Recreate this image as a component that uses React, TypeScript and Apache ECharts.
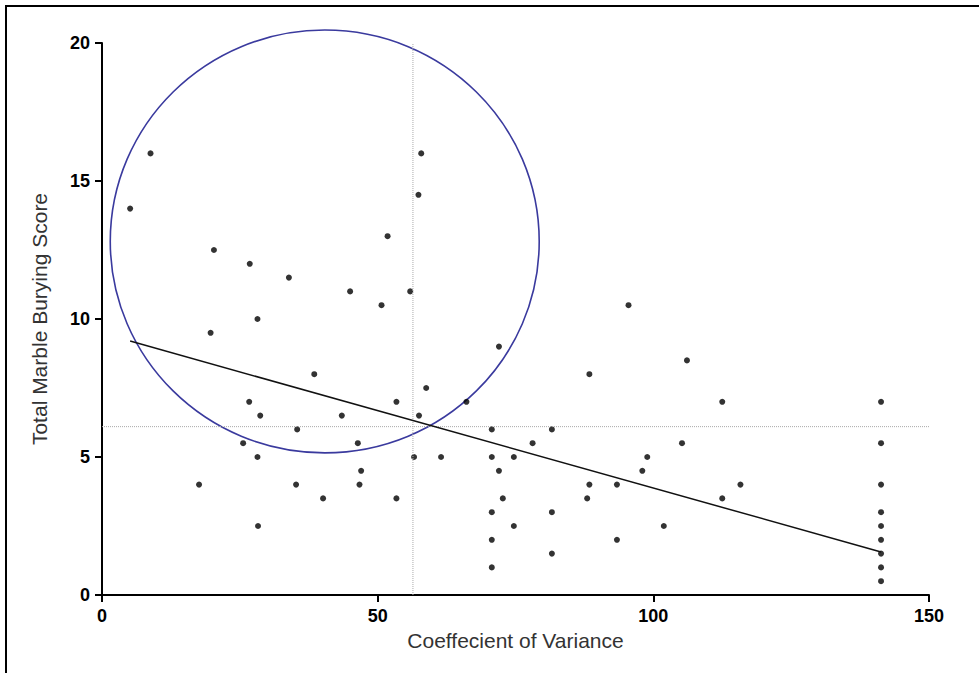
import React, { useEffect, useRef } from "react";
import * as echarts from "echarts";

const xTicks = [0, 50, 100, 150];
const yTicks = [0, 5, 10, 15, 20];

const pointsX = [
  5.1, 8.8, 20.3, 26.8, 33.9, 45.0, 50.7, 51.8, 57.9, 57.4, 55.9,
  19.7, 28.2, 38.5, 26.7, 28.7, 43.5, 35.4, 25.6, 28.2, 46.4, 47.0, 46.7, 17.6, 35.2, 40.1, 53.4, 28.3,
  58.8, 53.4, 66.1, 57.5, 72.0,
  70.7, 81.6, 78.1, 56.6, 61.5, 70.7, 74.7, 72.0, 72.7, 70.7, 81.6, 74.7, 70.7, 81.6, 70.7,
  95.5, 106.1, 88.4, 112.5, 105.2, 98.9, 98.0, 88.4, 93.4, 88.0, 101.9, 93.4, 115.8, 112.5,
  141.3, 141.3, 141.3, 141.3, 141.3, 141.3, 141.3, 141.3, 141.3,
];
const pointsY = [
  14, 16, 12.5, 12, 11.5, 11, 10.5, 13, 16, 14.5, 11,
  9.5, 10, 8, 7, 6.5, 6.5, 6, 5.5, 5, 5.5, 4.5, 4, 4, 4, 3.5, 3.5, 2.5,
  7.5, 7, 7, 6.5, 9,
  6, 6, 5.5, 5, 5, 5, 5, 4.5, 3.5, 3, 3, 2.5, 2, 1.5, 1,
  10.5, 8.5, 8, 7, 5.5, 5, 4.5, 4, 4, 3.5, 2.5, 2, 4, 3.5,
  7, 5.5, 4, 3, 2.5, 2, 1.5, 1, 0.5,
];

const regressionLine = [
  [5.1, 9.2],
  [141.3, 1.56],
];
const meanX = 56.4;
const meanY = 6.1;
// circled region (annotation) in data units
const circleCenter = [40.4, 12.81];
const circleRadius = [38.9, 7.66];

const FONT = 'Arial, "Liberation Sans", sans-serif';

export default function App() {
  const ref = useRef<HTMLDivElement>(null);
  useEffect(() => {
    if (!ref.current) return;
    const chart = echarts.init(ref.current, null, { renderer: "svg" });
    const scatterData = pointsX.map((x, i) => [x, pointsY[i]]);
    chart.setOption({
      animation: false,
      backgroundColor: "#ffffff",
      grid: { left: 102, top: 43, right: 50, bottom: 78, containLabel: false },
      xAxis: {
        type: "value",
        min: xTicks[0],
        max: xTicks[xTicks.length - 1],
        interval: 50,
        name: "Coeffecient of Variance",
        nameLocation: "middle",
        nameGap: 33,
        nameTextStyle: { fontFamily: FONT, fontSize: 21, color: "#333333" },
        axisLine: { show: true, onZero: false, lineStyle: { color: "#000", width: 2 } },
        axisTick: { show: true, length: 7, lineStyle: { color: "#000", width: 2 } },
        axisLabel: { margin: 12, fontFamily: FONT, fontSize: 18, fontWeight: "bold", color: "#000" },
        splitLine: { show: false },
      },
      yAxis: {
        type: "value",
        min: yTicks[0],
        max: yTicks[yTicks.length - 1],
        interval: 5,
        name: "Total Marble Burying Score",
        nameLocation: "middle",
        nameGap: 52,
        nameTextStyle: { fontFamily: FONT, fontSize: 21, color: "#333333" },
        axisLine: { show: true, onZero: false, lineStyle: { color: "#000", width: 2 } },
        axisTick: { show: true, length: 7, lineStyle: { color: "#000", width: 2 } },
        axisLabel: { margin: 12, fontFamily: FONT, fontSize: 18, fontWeight: "bold", color: "#000" },
        splitLine: { show: false },
      },
      series: [
        {
          type: "line",
          data: [
            [meanX, yTicks[0]],
            [meanX, yTicks[yTicks.length - 1]],
          ],
          symbol: "none",
          lineStyle: { color: "#aaa", width: 1, type: [1, 1] },
          silent: true,
        },
        {
          type: "line",
          data: [
            [xTicks[0], meanY],
            [xTicks[xTicks.length - 1], meanY],
          ],
          symbol: "none",
          lineStyle: { color: "#aaa", width: 1, type: [1, 1] },
          silent: true,
        },
        {
          type: "line",
          data: regressionLine,
          symbol: "none",
          lineStyle: { color: "#111", width: 1.5 },
          silent: true,
        },
        {
          type: "scatter",
          data: scatterData,
          symbol: "circle",
          symbolSize: 6,
          itemStyle: { color: "#000" },
        },
      ],
    });
    const c = chart.convertToPixel({ gridIndex: 0 }, circleCenter) as number[];
    const e = chart.convertToPixel({ gridIndex: 0 }, [
      circleCenter[0] + circleRadius[0],
      circleCenter[1] + circleRadius[1],
    ]) as number[];
    chart.setOption({
      graphic: [
        {
          type: "rect",
          shape: { x: 6, y: 6, width: 1200, height: 1200 },
          style: { fill: "none", stroke: "#000", lineWidth: 2 },
          silent: true,
        },
        {
          type: "ellipse",
          shape: { cx: c[0], cy: c[1], rx: Math.abs(e[0] - c[0]), ry: Math.abs(c[1] - e[1]) },
          style: { fill: "none", stroke: "#3a3a9e", lineWidth: 1.6 },
          silent: true,
        },
      ],
    });
    return () => chart.dispose();
  }, []);
  return (
    <div
      ref={ref}
      style={{ position: "absolute", left: 0, top: 0, width: 979, height: 673 }}
    />
  );
}
